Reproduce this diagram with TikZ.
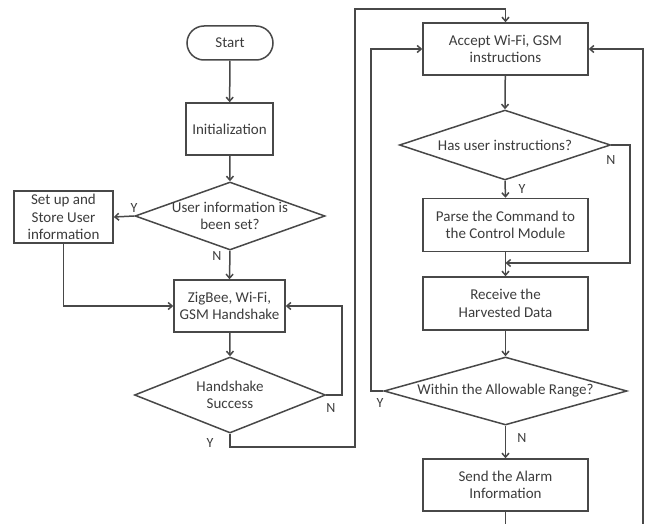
\documentclass[tikz,border=0pt]{standalone}
\usepackage{fontspec}
\setmainfont{Carlito}
\usetikzlibrary{shapes.geometric,arrows.meta}
\definecolor{ln}{HTML}{484848}
\definecolor{tx}{HTML}{3C3C3C}
\begin{document}
\begin{tikzpicture}[x=1pt,y=-1pt,
  every node/.style={font=\fontsize{15}{17.5}\selectfont, text=tx},
  box/.style={draw=ln, line width=1.5pt, rectangle, inner sep=0pt, align=center},
  term/.style={box, rounded corners=17pt},
  dia/.style={draw=ln, line width=1.5pt, diamond, inner sep=0pt},
  dtext/.style={align=center, inner sep=0pt},
  lbl/.style={font=\fontsize{14}{15}\selectfont, inner sep=0pt},
  con/.style={draw=ln, line width=1.5pt, -{Straight Barb[length=4pt,width=7pt]}},
  ]
\useasboundingbox (0,0) rectangle (645,524);
\clip (0,0) rectangle (645,524);

% left column
\node[term, minimum width=86pt, minimum height=34pt] (start) at (230,43) {Start};
\node[box, minimum width=87pt, minimum height=52pt] (init) at (229.5,129) {Initialization};
\node[dia, minimum width=190pt, minimum height=68pt] (d1) at (230,216) {};
\node[dtext] (d1t) at (d1.center) {User information is\\been set?};
\node[box, minimum width=99pt, minimum height=52pt] (setup) at (63.5,217) {Set up and\\Store User\\information};
\node[box, minimum width=111pt, minimum height=52pt] (zig) at (229.5,306) {ZigBee, Wi-Fi,\\GSM Handshake};
\node[dia, minimum width=191pt, minimum height=76pt] (d2) at (230,395) {};
\node[dtext] (d2t) at (d2.center) {Handshake\\Success};

% right column
\node[box, minimum width=165pt, minimum height=52pt] (acc) at (505.5,49) {Accept Wi-Fi, GSM\\instructions};
\node[dia, minimum width=211pt, minimum height=70pt] (d3) at (505,145) {};
\node[dtext] (d3t) at (d3.center) {Has user instructions?};
\node[box, minimum width=165pt, minimum height=53pt] (parse) at (505.5,225) {Parse the Command to\\the Control Module};
\node[box, minimum width=165pt, minimum height=53pt] (recv) at (505.5,303.5) {Receive the\\Harvested Data};
\node[dia, minimum width=243pt, minimum height=68pt] (d4) at (505.5,391) {};
\node[dtext] (d4t) at (d4.center) {Within the Allowable Range?};
\node[box, minimum width=165pt, minimum height=52pt] (send) at (505.5,485) {Send the Alarm\\Information};

% bend points
\coordinate (c2a) at (342,395);
\coordinate (c2b) at (342,306);
\coordinate (c8a) at (230,447);
\coordinate (c8b) at (355,447);
\coordinate (c8c) at (355,9);
\coordinate (c8d) at (505.5,9);
\coordinate (c11a) at (630,145);
\coordinate (c11b) at (630,263);
\coordinate (c11c) at (505.5,263);
\coordinate (c14a) at (371,391);
\coordinate (c14b) at (371,49);
\coordinate (c16a) at (505.5,535);
\coordinate (c16b) at (643,535);
\coordinate (c16c) at (643,49);

% connectors
\draw[con] (start) -- (init);
\draw[con] (init) -- (d1.north);
\draw[con] (d1.west) -- (setup.east);
\draw[con] (d1.south) -- (zig.north);
\draw[con] (setup.south) |- (zig.west);
\draw[con] (zig) -- (d2.north);
\draw[con] (d2.east) -- (c2a) -- (c2b) -- (zig.east);
\draw[con] (d2.south) -- (c8a) -- (c8b) -- (c8c) -- (c8d) -- (acc.north);
\draw[con] (acc) -- (d3.north);
\draw[con] (d3.south) -- (parse.north);
\draw[con] (d3.east) -- (c11a) -- (c11b) -- (c11c);
\draw[con] (parse) -- (recv);
\draw[con] (recv) -- (d4.north);
\draw[con] (d4.west) -- (c14a) -- (c14b) -- (acc.west);
\draw[con] (d4.south) -- (send.north);
\draw[con] (send.south) -- (c16a) -- (c16b) -- (c16c) -- (acc.east);

% labels
\node[lbl] (y1) at (134,208) {Y};
\node[lbl] (n1) at (217,256) {N};
\node[lbl] (n2) at (331,408) {N};
\node[lbl] (y2) at (210,443) {Y};
\node[lbl] (y3) at (522,189) {Y};
\node[lbl] (n3) at (611,160) {N};
\node[lbl] (y4) at (380,403) {Y};
\node[lbl] (n4) at (522,438) {N};
\end{tikzpicture}
\end{document}
